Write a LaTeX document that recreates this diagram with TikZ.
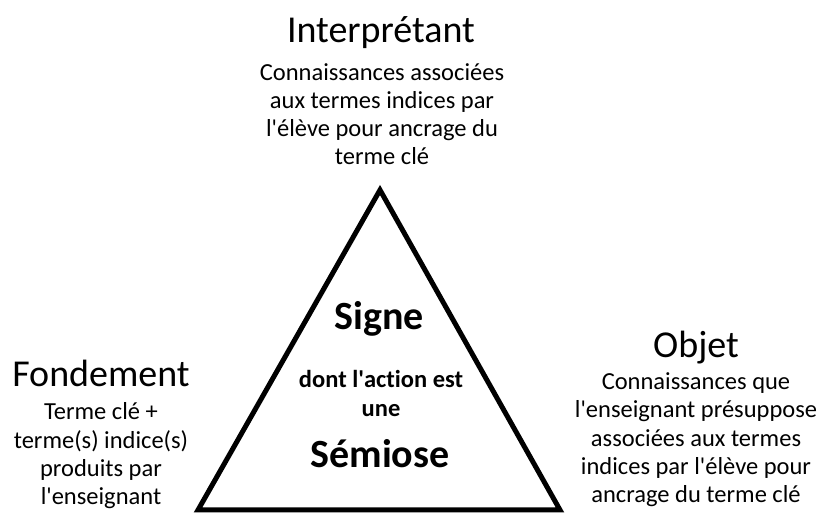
\documentclass[tikz,border=0pt]{standalone}
\usepackage{fontspec}
\setmainfont{Carlito}[Ligatures={TeX,NoCommon}]
\newcommand{\apos}{\textquotesingle}
\begin{document}
\begin{tikzpicture}[x=1pt,y=1pt,
  every node/.style={inner sep=0pt, anchor=base, text=black},
  ttl/.style={font=\fontsize{38}{44}\selectfont},
  bdy/.style={font=\fontsize{24.5}{28}\selectfont},
  bigb/.style={font=\fontsize{40}{46}\selectfont\bfseries},
  midb/.style={font=\fontsize{24.5}{28}\selectfont\bfseries},
  tri/.style={draw=black, line width=5pt, line join=miter}]
\useasboundingbox (0,0) rectangle (821,513);
\fill[white] (0,0) rectangle (821,513);
% triangle
\coordinate (A) at (380,323);
\coordinate (B) at (198,3);
\coordinate (C) at (560,3);
\draw[tri] (A) -- (B) -- (C) -- cycle;
% inside
\node[bigb] (signe) at (379,183) {Signe};
\node[midb] (dont) at (381,125) {dont l\apos action est};
\node[midb] (une) at (381,96) {une};
\node[bigb] (semiose) at (380,45) {Sémiose};
% top
\node[ttl] (interp) at (381,470) {Interprétant};
\node[bdy] (i1) at (382,432) {Connaissances associées};
\node[bdy] (i2) at (382,404) {aux termes indices par};
\node[bdy] (i3) at (382,376) {l\apos élève pour ancrage du};
\node[bdy] (i4) at (382,348) {terme clé};
% left
\node[ttl] (fond) at (101,126) {Fondement};
\node[bdy] (f1) at (101,93) {Terme clé +};
\node[bdy] (f2) at (101,64) {terme(s) indice(s)};
\node[bdy] (f3) at (101,36) {produits par};
\node[bdy] (f4) at (101,8) {l\apos enseignant};
% right
\node[ttl] (obj) at (696,155) {Objet};
\node[bdy] (o1) at (696,123) {Connaissances que};
\node[bdy] (o2) at (696,95) {l\apos enseignant présuppose};
\node[bdy] (o3) at (696,66) {associées aux termes};
\node[bdy] (o4) at (696,38) {indices par l\apos élève pour};
\node[bdy] (o5) at (696,10) {ancrage du terme clé};
\end{tikzpicture}
\end{document}
